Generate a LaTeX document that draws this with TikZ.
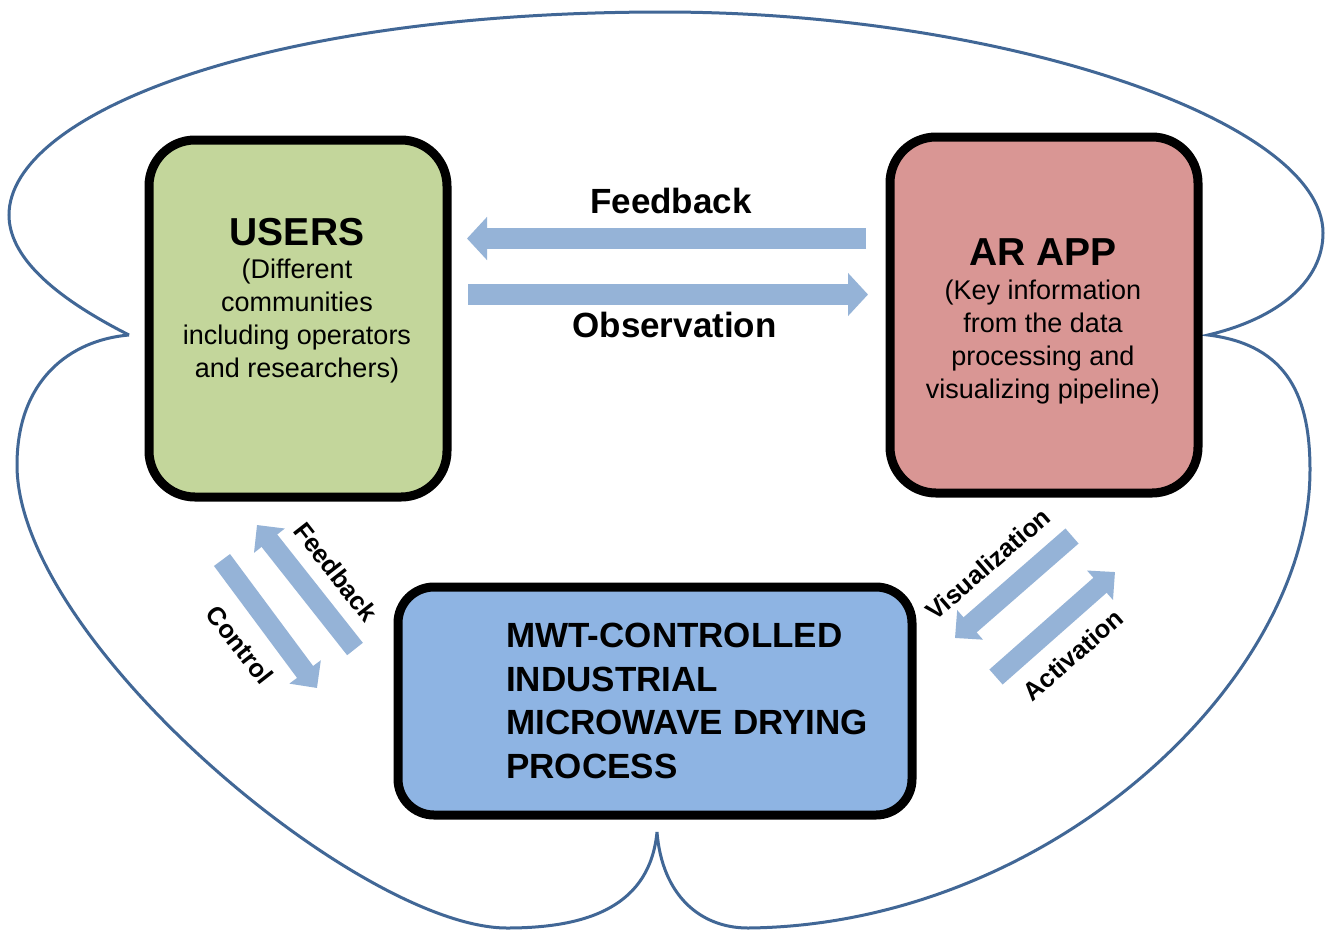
\documentclass[tikz,border=0pt]{standalone}
\usepackage{fontspec}
\setmainfont{Liberation Sans}
\usetikzlibrary{arrows.meta}
\definecolor{cloudline}{RGB}{65,103,150}
\definecolor{usersgreen}{RGB}{195,214,155}
\definecolor{appred}{RGB}{217,150,148}
\definecolor{procblue}{RGB}{142,180,227}
\definecolor{arrowblue}{RGB}{149,179,215}
\begin{document}
\begin{tikzpicture}[x=1pt,y=-1pt,
  box/.style={draw=black, line width=9pt, rounded corners=46pt, inner sep=0pt, rectangle},
  bigarrow/.style={draw=arrowblue, line width=21pt, -{Triangle[width=42pt,length=20pt]}},
  diagarrow/.style={draw=arrowblue, line width=20pt, -{Triangle[width=38pt,length=20pt]}},
  title/.style={font=\bfseries\fontsize{39pt}{45pt}\selectfont, inner sep=0pt},
  sub/.style={font=\fontsize{27pt}{32.7pt}\selectfont, align=center, inner sep=0pt},
  hlabel/.style={font=\bfseries\fontsize{35pt}{42pt}\selectfont, inner sep=0pt},
  dlabel/.style={font=\bfseries\fontsize{25.5pt}{30pt}\selectfont, inner sep=0pt},
  cloud/.style={draw=cloudline, line width=3pt, line join=miter}
]
\fill[white] (0,0) rectangle (1326,930);
\useasboundingbox (0,0) rectangle (1326,930);

% outer cloud outline
\draw[cloud] (129,335) .. controls (50,295) and (9,255) .. (9,215)
  .. controls (9,115) and (260,12) .. (663,12)
  .. controls (1000,12) and (1323,120) .. (1323,233)
  .. controls (1323,280) and (1280,318) .. (1208,335)
  .. controls (1290,345) and (1310,400) .. (1310,470)
  .. controls (1310,680) and (1050,925) .. (748,928)
  .. controls (700,928) and (662,895) .. (657,832)
  .. controls (650,905) and (590,928) .. (507,928)
  .. controls (360,928) and (17,640) .. (17,465)
  .. controls (17,380) and (70,340) .. (129,335);

% boxes
\node[box, fill=usersgreen, minimum width=298pt, minimum height=357pt] (users) at (298,318.5) {};
\node[box, fill=appred, minimum width=308pt, minimum height=356pt] (app) at (1044,315) {};
\node[box, fill=procblue, minimum width=514pt, minimum height=228pt, rounded corners=36pt] (proc) at (655,701) {};

% box texts (base anchor of a multi-line node = baseline of its last line)
\node[title, anchor=base] (userst) at (297,245) {USERS};
\node[sub, anchor=base] (userss) at (297,377) {(Different\\communities\\including operators\\and researchers)};
\node[title, anchor=base] (appt) at (1043,265) {AR APP};
\node[sub, anchor=base] (apps) at (1043,398) {(Key information\\from the data\\processing and\\visualizing pipeline)};
\node[hlabel, anchor=base west, align=left, font=\bfseries\fontsize{35pt}{43.4pt}\selectfont] (proct) at (506,778) {MWT-CONTROLLED\\INDUSTRIAL\\MICROWAVE DRYING\\PROCESS};

% horizontal arrows
\coordinate (fbs) at (866,238.5);
\coordinate (fbe) at (467,238.5);
\coordinate (obs) at (468,294.5);
\coordinate (obe) at (868,294.5);
\draw[bigarrow] (fbs) -- (fbe);
\draw[bigarrow] (obs) -- (obe);
\node[hlabel, anchor=base] (fbl) at (671,213) {Feedback};
\node[hlabel, anchor=base] (obl) at (674.5,337) {Observation};

% diagonal arrows left
\coordinate (lfs) at (355,649);
\coordinate (lfe) at (257,525);
\coordinate (lcs) at (222,560);
\coordinate (lce) at (317,688);
\draw[diagarrow] (lfs) -- (lfe);
\draw[diagarrow] (lcs) -- (lce);
\node[dlabel, rotate=-52] (lfl) at (336,572) {Feedback};
\node[dlabel, rotate=-52] (lcl) at (240,645) {Control};

% diagonal arrows right
\coordinate (rvs) at (1072,536);
\coordinate (rve) at (955,638);
\coordinate (ras) at (996,677);
\coordinate (rae) at (1115,572);
\draw[diagarrow] (rvs) -- (rve);
\draw[diagarrow] (ras) -- (rae);
\node[dlabel, rotate=41] (rvl) at (988,564) {Visualization};
\node[dlabel, rotate=41] (ral) at (1073,655) {Activation};
\end{tikzpicture}
\end{document}
